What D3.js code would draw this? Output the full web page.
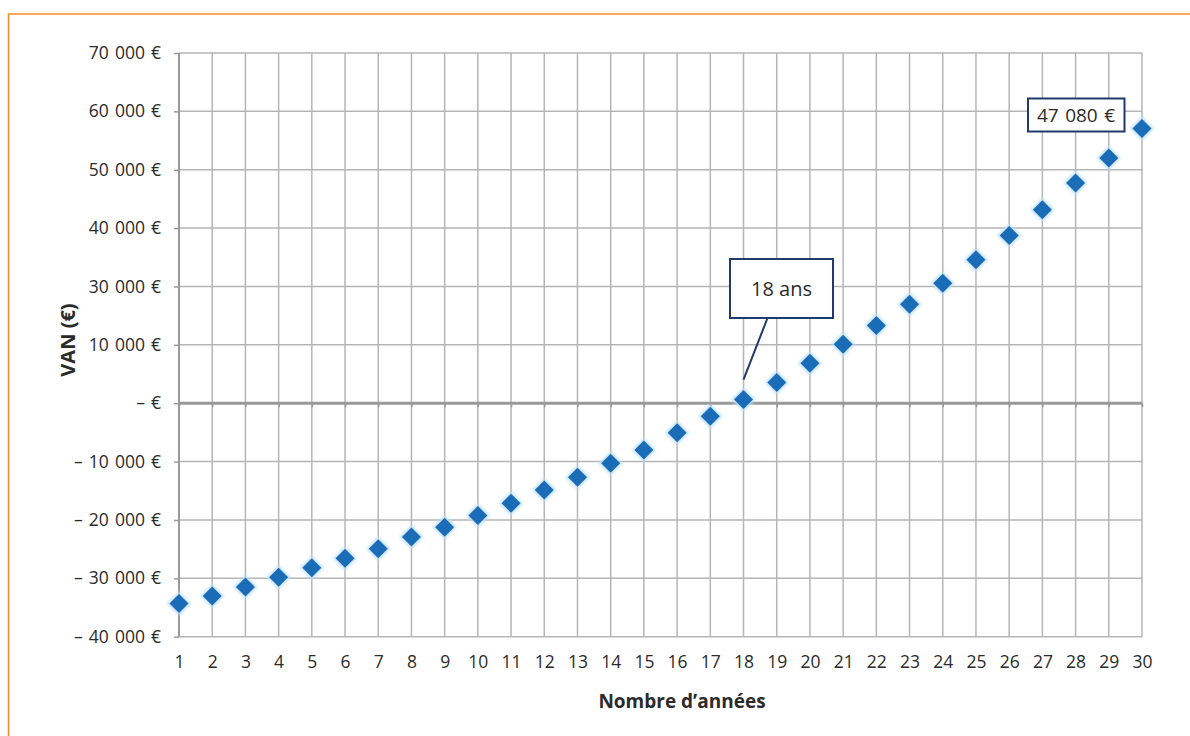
<!DOCTYPE html>
<html><head><meta charset="utf-8">
<script src="https://cdn.jsdelivr.net/npm/d3@7"></script>
<style>body{margin:0;background:#fff}svg{display:block}text{font-family:"Open Sans",sans-serif;fill:#2b2b2b}</style>
</head><body><svg id="c" width="1190" height="736"></svg>
<script>
const years = d3.range(1, 31);
const van = [-34300,-33030,-31490,-29830,-28180,-26570,-24930,-22920,-21260,-19240,
  -17140,-14860,-12690,-10290,-8000,-5040,-2230,620,3530,6860,
  10110,13300,16970,20570,24570,28730,33140,37710,42000,47080];
const yTickValues = [60000,50000,40000,30000,20000,10000,0,-10000,-20000,-30000,-40000];
const yTickLabels = ["70 000 €","60 000 €","50 000 €","40 000 €","30 000 €","10 000 €","– €","– 10 000 €","– 20 000 €","– 30 000 €","– 40 000 €"];
const annotYear = 18, annotText = "18 ans";
const lastLabel = "47 080 €";
const yTitle = "VAN (€)", xTitle = "Nombre d’années";

const svg = d3.select("#c");
const L = 179, R = 1142, T = 53, B = 636.7;
const x = d3.scaleLinear().domain([1, 30]).range([L, R]);
const y = d3.scaleLinear().domain([-40000, 60000]).range([B, T]);

// orange frame (left + top)
svg.append("path").attr("d", `M8.5,740 V14 H1192`).attr("fill","none").attr("stroke","#f28c28").attr("stroke-width",1.5);

const defs = svg.append("defs");
defs.append("filter").attr("id","glow").attr("x","-50%").attr("y","-50%").attr("width","200%").attr("height","200%")
  .append("feGaussianBlur").attr("stdDeviation",1.6);

// horizontal grid
svg.append("g").selectAll("line").data(yTickValues).join("line")
  .attr("x1", L).attr("x2", R).attr("y1", d=>y(d)).attr("y2", d=>y(d))
  .attr("stroke", "#b5b5b5").attr("stroke-width", 1.5);
// vertical grid
svg.append("g").selectAll("line").data(years).join("line")
  .attr("x1", d=>x(d)).attr("x2", d=>x(d)).attr("y1", T).attr("y2", B)
  .attr("stroke", "#b5b5b5").attr("stroke-width", 1.5);

// y axis
const yAxis = d3.axisLeft(y).tickValues(yTickValues).tickSize(5).tickPadding(13)
  .tickFormat((d,i)=>yTickLabels[i]);
const gy = svg.append("g").attr("transform", `translate(${L},0)`).call(yAxis);
gy.select(".domain").attr("stroke","#9a9a9a").attr("stroke-width",2).attr("d",`M0,${T}V${B}`);
gy.selectAll(".tick line").attr("stroke","#9a9a9a").attr("stroke-width",1.5);
gy.selectAll(".tick text").attr("font-size",17.5).attr("word-spacing","1.5px").attr("fill","#2b2b2b").style("font-family","'Open Sans',sans-serif");

// zero line with ticks
const xAxis = d3.axisBottom(x).tickValues(years).tickSize(4).tickFormat("");
const gz = svg.append("g").attr("transform", `translate(0,${y(0)})`).call(xAxis);
gz.select(".domain").attr("stroke","#999").attr("stroke-width",3).attr("d",`M${L},0H${R}`);
gz.selectAll(".tick line").attr("stroke","#999").attr("stroke-width",1.5);

// x labels at bottom
const gx = svg.append("g").attr("transform", `translate(0,${B})`)
  .call(d3.axisBottom(x).tickValues(years).tickSize(0).tickPadding(19).tickFormat(d3.format("d")));
gx.select(".domain").remove();
gx.selectAll(".tick text").attr("font-size",17.5).attr("fill","#2b2b2b").style("font-family","'Open Sans',sans-serif");

// titles
svg.append("text").attr("transform","translate(75,340) rotate(-90)").attr("text-anchor","middle")
  .attr("font-size",20).attr("font-weight","bold").text(yTitle);
svg.append("text").attr("x",682).attr("y",708).attr("text-anchor","middle")
  .attr("font-size",19).attr("font-weight","bold").text(xTitle);

// annotation 18 ans
const ax = x(annotYear), ay = y(van[annotYear-1]);
svg.append("line").attr("x1", ax).attr("y1", ay-20).attr("x2", ax+24).attr("y2", 318)
  .attr("stroke","#1f3a6b").attr("stroke-width",2);

// markers
const diamond = r => `M0,${-r}L${r},0L0,${r}L${-r},0Z`;
const pts = svg.append("g").selectAll("g").data(years).join("g")
  .attr("transform", d=>`translate(${x(d)},${y(van[d-1])})`);
pts.append("path").attr("d", diamond(12)).attr("fill","#bfe0f6").attr("filter","url(#glow)");
pts.append("path").attr("d", diamond(9.5)).attr("fill","#1b6cb7");

svg.append("rect").attr("x",730).attr("y",259).attr("width",103).attr("height",59)
  .attr("fill","#fff").attr("stroke","#1f3a6b").attr("stroke-width",2);
svg.append("text").attr("x",781.5).attr("y",296).attr("text-anchor","middle").attr("font-size",20).text(annotText);

// last value label
svg.append("rect").attr("x",1028).attr("y",98.5).attr("width",96.5).attr("height",33)
  .attr("fill","#fff").attr("stroke","#1f3a6b").attr("stroke-width",2);
svg.append("text").attr("x",1076).attr("y",122).attr("text-anchor","middle").attr("font-size",19).attr("word-spacing","1.5px").text(lastLabel);
</script></body></html>
